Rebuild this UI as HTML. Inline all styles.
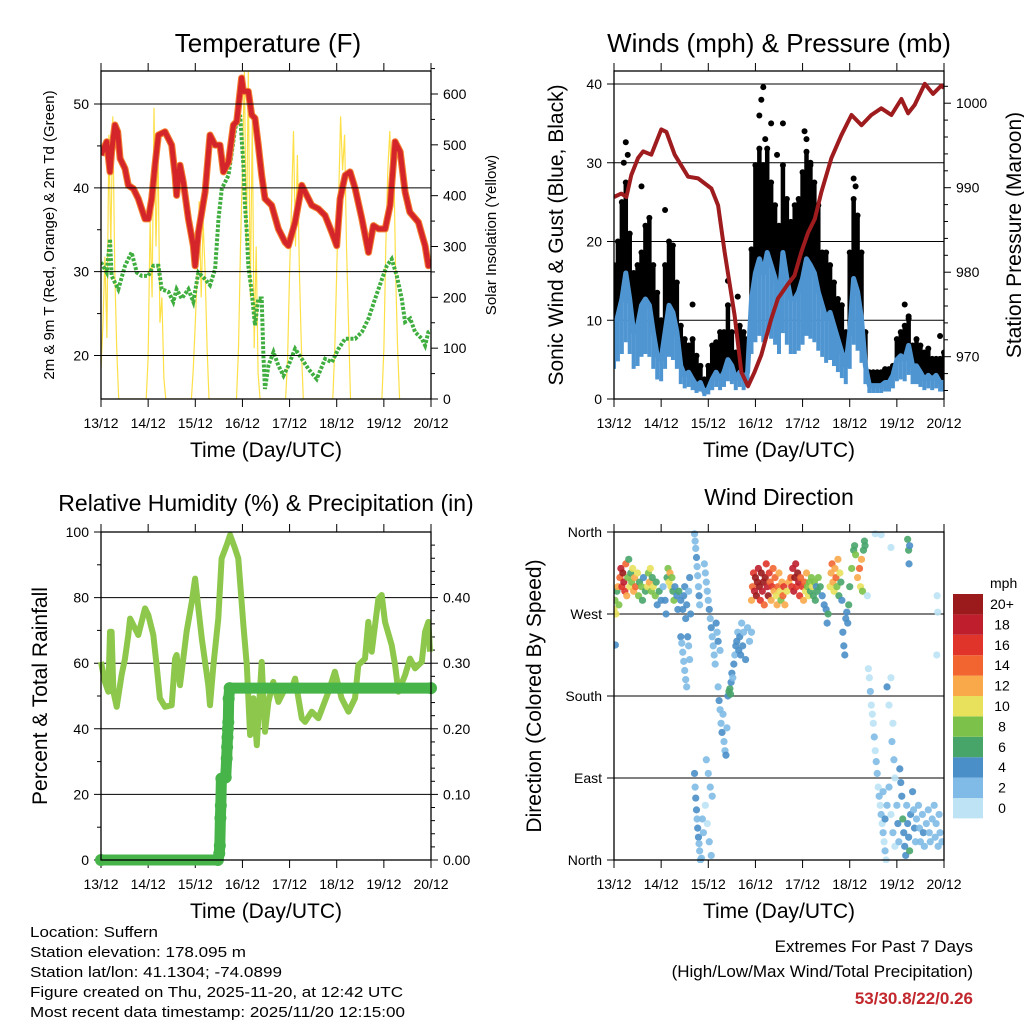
<!DOCTYPE html>
<html><head><meta charset="utf-8"><style>
html,body{margin:0;padding:0;background:#fff}
svg{display:block;font-family:"Liberation Sans",sans-serif}
</style></head><body>
<svg id="chart" width="1024" height="1024" viewBox="0 0 1024 1024" xmlns="http://www.w3.org/2000/svg">
<g id="layer"></g>
<g font-size="15" fill="#000">
<text x="30" y="937" textLength="128" lengthAdjust="spacingAndGlyphs">Location: Suffern</text>
<text x="30" y="957" textLength="216" lengthAdjust="spacingAndGlyphs">Station elevation: 178.095 m</text>
<text x="30" y="977" textLength="252" lengthAdjust="spacingAndGlyphs">Station lat/lon: 41.1304; -74.0899</text>
<text x="30" y="997" textLength="373" lengthAdjust="spacingAndGlyphs">Figure created on Thu, 2025-11-20, at 12:42 UTC</text>
<text x="30" y="1017" textLength="375" lengthAdjust="spacingAndGlyphs">Most recent data timestamp: 2025/11/20 12:15:00</text>
</g>
<g font-size="17" text-anchor="end">
<text x="973" y="952">Extremes For Past 7 Days</text>
<text x="973" y="977">(High/Low/Max Wind/Total Precipitation)</text>
<text x="973" y="1004" fill="#c1272d" font-weight="bold">53/30.8/22/0.26</text>
</g>
</svg>
<script>
// ---------- DATA ----------
const dayLabels = ["13/12","14/12","15/12","16/12","17/12","18/12","19/12","20/12"];
const tempHours = [0,2.9,4.6,5.4,7.1,8.5,9.7,12.2,13.9,16.5,19,22.4,24.1,25.8,27.5,29.2,32.6,36,37.7,38.5,40.2,41.9,44.5,47,47.9,49.6,53,55.5,58.1,60.6,62.3,64.9,67.4,69.1,71.6,72.5,75,76.7,78.4,80.1,81.8,83.5,86.9,90.3,93.7,95.4,98.8,102.2,103.9,107.3,110.7,114.1,117.5,120,121.7,124.3,126.8,129.4,132.8,136.2,138.7,141.3,144.7,147.2,149.7,152.3,154.8,157.2,161.6,165,166.7,167.6];
const temp2m = [43.9,45.5,41.9,44.3,47.5,46.7,43.5,42.3,40.3,39.9,38.7,36.3,36.3,38.7,42.7,46.3,46.7,45.1,41.5,39.1,42.7,40.7,36.3,33.1,30.7,34.7,39.5,46.3,45.1,45.1,41.9,43.1,47.5,47.9,53.1,51.5,51.5,48.7,48.3,45.1,41.5,38.7,37.9,35.1,33.5,33.1,35.9,40.3,39.5,37.9,37.5,36.7,34.7,33.1,38.7,41.5,41.9,39.9,36.3,32.3,35.5,35.1,35.1,37.9,45.5,44.3,39.5,37.1,35.9,33.1,30.7,31.5];
const dewHours = [0,2.9,4.6,5.4,8.8,12.2,15.6,18.2,20.7,24.1,26.7,29.2,30.9,34.3,36.8,38.5,41.1,44.5,47,49.6,53,55.5,58.1,59.8,61.5,64.9,68.3,70.8,72.5,73.3,74.2,75,76.7,78.4,80.1,81.8,82.7,83.5,85.2,87.8,90.3,92.9,95.4,98.8,102.2,105.6,109.8,114.1,117.5,120.9,124.3,129.4,132.8,136.2,139.6,143,145.5,148,150.6,153.1,154.8,157.4,159.9,163.3,165,166.7,168];
const dew2m = [31.1,29.9,33.9,29.5,27.9,30.7,32.3,29.9,29.5,29.5,30.7,30.7,27.9,27.6,26.4,27.9,26.8,27.9,26.4,29.9,29.1,28.4,30.3,36.3,39.9,41.5,47.1,48.7,42.7,37.9,34.7,30.7,27.6,23.6,26.8,26.8,20,16,18.8,20.4,18.8,17.6,18.8,20.8,19.6,18.4,17.2,19.6,19.2,20.8,22,22,22.8,24.4,26.8,29.1,30.7,31.5,29.5,26.8,24,24.4,22.8,22,21.2,22.8,23];
const solarHours = [0,1,2,3,4,5,6,7,8,9,23,24,25,26,27,28,29,30,31,32,33,46,47,48,49,50,51,52,53,54,55,69,70,71,72,73,74,75,76,77,78,79,80,81,94,95,96,97,98,99,100,101,102,103,118,119,120,121,122,123,124,125,126,127,143,144,145,146,147,148,149,150,151,152];
const solarVals = [60,150,280,120,520,300,556,250,100,0,0,80,350,200,573,300,500,150,200,40,0,0,60,150,250,389,200,350,250,100,0,0,100,300,450,645,300,645,200,550,100,300,50,0,0,80,250,380,527,300,480,250,100,0,0,100,250,400,556,450,520,300,150,0,0,100,300,450,527,400,480,250,100,0];
const windHours = [0,2,4,6,8,10,12,14,16,18,20,22,24,26,28,30,32,34,36,38,40,42,44,46,48,50,52,54,56,58,60,62,64,66,68,70,72,74,76,78,80,82,84,86,88,90,92,94,96,98,100,102,104,106,108,110,112,114,116,118,120,122,124,126,128,130,132,134,136,138,140,142,144,146,148,150,152,154,156,158,160,162,164,166,168];
const windSustained = [8.5,10.6,12.7,16,12.7,8.5,9.3,11.9,12.7,11.9,8.5,5.5,5,8.5,11.9,11,8.5,4.2,3,3.4,2.5,1.7,2.1,0.8,1.3,2.5,3.4,2.5,3.4,5,4.2,2.5,3.4,2.5,3.4,12.7,16,17.8,16,18.6,17,15.3,12.7,18.6,15.3,12.7,12.7,13.6,15.3,17.8,17,16,13.6,11.9,10.2,11,9.3,7.6,5.9,4.2,8.5,15.3,13.6,10.2,4.2,1.7,1.7,1.7,1.7,2.1,2.1,3,5,5.5,5,6.8,4.2,4.2,3.4,2.5,3,2.5,3,2.1,2.1];
const windGust = [17,20,25,27.5,21,16,17,18.6,22,23,17,13.5,10,17,20,19.5,14.8,9.3,7.6,6.8,7.6,5.5,4.2,2.5,4.2,6.8,7.2,8.5,8.5,11.9,8.5,5.9,9.3,8.5,7.6,19,29.7,31.8,29.7,31.8,27.5,24.6,22,29.7,25.4,22.5,24.6,25.4,28.8,31.4,29.7,27.5,24.6,18.6,18.6,17,14.8,12.7,11.9,8.5,18.6,25.4,23.3,18.6,8.5,3.4,3.4,3.4,3.4,3.8,3.8,4.2,7.6,8.5,9.3,10.2,6.8,7.6,6.8,5.9,6.4,5.1,5.1,5.1,5.9];
const outlierHours = [5,6,7,14,26,40,58,63,74,75,76,77,80,83,86,97,98,100,122,123,148,150,166];
const outlierGusts = [30,32.6,31,27,24,12,15,13,36,38,39.6,33,35,31,35,34,33,30,28,27,12,10.5,8];
const presHours = [0,3.7,6.3,8.8,12.2,14.8,19,24.1,26.7,30.9,37.7,42.8,49.6,53,56.3,61.4,64.8,68.2,71.6,75,80.1,83.5,88.6,91.9,95.4,98.8,102.2,105.6,110.7,115.7,120.9,126,131,136.1,141.2,146.3,149.7,153.1,158.2,162.4,166.7,168];
const presVals = [988.9,989.3,988.9,991.5,993.5,994.3,993.9,996.9,996.6,993.9,991.3,991.1,989.9,987.9,982.4,974.9,968.2,966.5,968.2,970.2,974.5,976.9,978.6,979.6,982.4,984.7,986.3,989.5,993.5,996.2,998.6,997.4,998.6,999.4,998.6,1000.5,998.8,999.8,1002.3,1001.1,1002.1,1001.8];
const rhHours = [0,2,3.7,4.6,5.4,6.3,8,10.5,12.2,13.9,14.8,16.5,19,22.4,24.1,26.6,28.3,30,32.6,36,37.7,38.5,40.2,41.9,43.6,46.2,47.9,49.6,51.3,54.6,55.5,57.2,59.7,61.4,64,65.7,68.2,69.9,72.5,74.2,75.9,77.6,79.3,80.9,81.8,83.5,85.2,87.7,90.3,93.7,97.1,98.8,102.2,103.9,107.3,110.7,115.8,119.1,122.5,126,129.3,131,134.4,136.1,137.8,141.2,142.9,144.6,148,149.7,151.4,154.8,157.3,159.9,163.3,165,166.7,167.5];
const rhVals = [60.4,54.3,51.3,69.6,69.6,51.3,46.7,56.4,61.4,68.6,73.6,71.6,68.6,76.7,74.7,68.6,59.4,49.3,46.7,47.2,61.4,62.5,53.3,61.4,69.6,78.7,85.8,76.7,67.5,53.3,47.2,59.4,73.6,91.9,96,99.1,95,91.9,71.6,59.4,38.1,49.3,35,51.3,60.4,39.1,48.2,54.3,48.2,52.3,52.3,55.3,43.2,42.1,45.2,43.2,51.3,57.4,49.3,45.2,49.3,59.4,61.4,72.6,63.5,79.7,80.8,72.6,65.5,59.4,51.3,56.4,61.4,58.4,60.4,69.6,72.6,63.5];
const precipHours = [0,59.5,60.2,60.5,60.8,61,61.3,63.5,64,64.2,64.4,64.6,64.8,65,65.5,168];
const precipVals = [0,0,0.01,0.022,0.064,0.083,0.124,0.126,0.155,0.172,0.187,0.2,0.21,0.246,0.262,0.262];
const wdHours = [0,0.5,1,1.5,2,2.5,3,3.5,4,4.5,5,5.5,6,6.5,7,7.5,8,8.5,9,9.5,10,10.5,11,12,12.5,13,14,14.5,15,16,17,17.5,18,18.5,19,19.5,20,21,21.5,22,23,24,25,26,26.5,27,27.5,28,28.5,29,29.5,30,30.5,31,32,32.5,33,34,35,35.5,36,36.5,37,38,38.5,39,0.7,
34,34.5,35,35.5,36,36.5,37,37.5,38,38.5,
41,41.3,41.6,42,42.3,42.6,43,43.3,43.6,41,41.3,41.6,42,42.3,42.6,43,43.3,43.6,44,44.5,45,45.5,
46,46.5,47,47.5,48,48.5,49,49.5,50,50.5,51,51.5,52,52.5,53,54,47,48,49,50,46.5,47.5,48.5,49.5,
53,53.5,54,54.5,55,55.5,56,56.5,57,57.5,58,58.5,59,59.3,59.6,60,60.5,61,61.5,62,62.5,63,63.5,64,64.5,65,65.5,66,67,68,69,70,
70,70.5,71,71.5,72,72.5,73,73.5,74,74.5,75,75.5,76,76.5,77,77.5,78,78.5,79,79.5,80,80.5,81,81.5,82,82.5,83,83.5,84,84.5,85,85.5,86,86.5,87,88,89,90,90.5,91,91.5,92,92.5,93,93.5,94,94.5,95,96,96.5,97,97.5,98,98.5,99,99.5,100,100.5,101,101.5,102,102.5,103,103.5,104,105,106,107,108,108.5,109,110,110.5,111,111.5,112,112.5,113,113.5,114,114.5,115,115.5,116,116.5,117,117.5,118,118.5,119,119.5,120,121,122,122.5,123,124,125,125.5,126,126.5,127,127.5,127.8,
129,129.5,130,130.5,131,131.5,132,132.5,133,133.5,134,134.5,135,135.5,136,136.5,137,137.5,138,138.5,133,136,141,139,140,141,142,141.5,142.5,143,140,139,138,137,141,142,143,144,144.5,145,145.5,146,146.5,147,147.5,148,148.5,149,149.5,150,150.5,151,152,152.5,153,153.5,154,155,155.5,156,157,157.5,158,159,160,160.5,161,162,163,163.5,164,165,165.5,166,167,149.5,150,150.5,150.2,164.5,164.8,164.3];
const wdDirs = [275,285,270,295,300,280,310,320,300,315,305,295,325,290,310,330,300,315,305,320,295,310,300,315,290,305,300,285,310,295,300,315,305,320,295,310,300,290,305,280,295,285,300,285,270,310,320,305,315,300,310,295,285,300,290,275,295,285,275,290,300,265,280,295,310,270,236,
245,238,228,218,208,198,190,245,235,220,
358,350,342,332,322,312,300,290,280,95,80,68,55,45,35,25,18,10,0,2,45,30,
325,315,305,295,285,275,265,255,245,235,225,215,260,250,240,230,110,95,80,70,60,40,20,5,
190,175,165,150,140,160,130,120,115,145,180,185,188,182,195,205,200,215,225,235,240,250,230,245,225,260,235,250,220,255,240,250,
285,300,315,295,310,290,305,320,300,285,315,295,305,280,310,325,300,290,315,305,285,300,320,295,310,290,280,300,315,295,285,305,290,300,280,295,305,310,300,320,295,310,325,300,315,305,290,310,300,285,305,295,315,300,290,305,295,310,300,290,305,285,300,295,310,300,290,280,275,260,270,300,315,325,305,295,320,310,300,330,290,315,305,285,250,235,225,265,272,260,280,300,320,340,345,335,310,320,300,330,295,340,350,345,
290,210,200,185,170,160,150,135,120,108,95,80,70,60,50,40,30,20,10,0,358,357,343,190,170,200,150,130,110,90,80,60,45,75,50,30,15,60,40,20,100,85,70,45,30,15,5,60,40,25,10,50,75,55,35,20,45,60,35,20,50,30,15,40,55,30,20,45,60,25,40,15,50,30,20,352,340,345,325,290,272,225];
const wdSpeeds = [10,8,10,6,12,8,14,18,16,20,18,16,14,12,8,6,10,6,8,10,12,12,14,10,8,6,8,6,4,6,10,8,12,10,8,6,10,8,6,4,6,4,2,4,4,6,8,10,12,10,8,6,8,4,4,4,6,4,4,4,4,4,4,2,4,4,4,
4,2,2,2,2,2,2,4,2,2,
2,2,2,4,2,2,2,4,2,4,2,4,4,2,4,4,2,2,2,2,2,2,
2,2,2,2,2,4,2,4,2,2,2,2,4,2,4,2,2,2,2,2,0,0,2,2,
2,4,2,2,4,2,2,2,4,2,4,6,6,6,4,4,2,4,2,4,4,2,4,4,4,2,4,2,4,2,2,2,
12,14,16,18,20,22,20,18,22,16,20,18,22,14,20,16,18,20,16,14,12,16,14,12,14,10,12,14,12,10,8,12,14,16,12,10,12,14,16,18,18,20,18,16,20,18,16,14,16,12,14,10,12,8,10,8,6,8,10,6,8,6,4,6,8,6,4,4,4,4,6,10,12,14,12,10,12,14,8,12,6,10,6,4,4,4,4,4,4,4,6,6,8,6,6,8,12,14,10,12,8,6,6,6,
0,0,0,2,0,0,0,2,0,2,2,0,2,0,2,0,2,0,2,0,0,0,0,4,0,0,0,2,2,0,2,2,4,2,0,2,0,2,4,2,4,4,4,6,4,4,4,2,4,4,6,4,4,2,4,2,2,2,2,2,2,4,2,2,2,2,2,2,2,2,2,2,2,2,2,6,6,4,4,0,0,0];
const speedColors = ["#bde3f5","#7fbbe6","#4a8fc8","#48a56a","#7cc24a","#e8e15c","#f9a94a","#f26531","#e0342a","#bf1e2d","#9b1a1c"];
const speedLabels = ["0","2","4","6","8","10","12","14","16","18","20+"];

// ---------- HELPERS ----------
const NS = "http://www.w3.org/2000/svg";
const layer = document.getElementById("layer");
function mk(tag, attrs, parent) {
  const e = document.createElementNS(NS, tag);
  for (const k in attrs) e.setAttribute(k, attrs[k]);
  (parent || layer).appendChild(e);
  return e;
}
function txt(s, attrs, parent) { const t = mk("text", attrs, parent); t.textContent = s; return t; }
function lin(d0, d1, r0, r1) { return v => r0 + (v - d0) / (d1 - d0) * (r1 - r0); }

const panels = {
  temp: {x0:101,x1:431,y0:71,y1:399},
  wind: {x0:614,x1:944,y0:71,y1:399},
  rh:   {x0:101,x1:431,y0:532,y1:860},
  wd:   {x0:614,x1:944,y0:532,y1:860}
};

function xAxis(p, g) {
  const xs = lin(0, 168, p.x0, p.x1);
  dayLabels.forEach((lab, i) => {
    const x = xs(i * 24);
    const t1 = mk("line", {x1:x,x2:x,y1:p.y0-8,y2:p.y0,stroke:"#000","stroke-width":1}, g);
    
    
    const t2 = mk("line", {x1:x,x2:x,y1:p.y1,y2:p.y1+8,stroke:"#000","stroke-width":1}, g);
    
    
    const tl = txt(lab, {x:x,y:p.y1+29,"font-size":14,"text-anchor":"middle"}, g);
    
    
  });
  const tt = txt("Time (Day/UTC)", {x:(p.x0+p.x1)/2,y:p.y1+58,"font-size":21,"text-anchor":"middle"}, g);
  
  
  return xs;
}
function leftAxis(p, g, ys, ticks, labels, minors) {
  ticks.forEach((v, i) => {
    const y = ys(v);
    const gl = mk("line", {x1:p.x0-7,x2:p.x1,y1:y,y2:y,stroke:"#000","stroke-width":1}, g);
    
    
    const tl = txt(labels[i], {x:p.x0-12,y:y+5,"font-size":14,"text-anchor":"end"}, g);
    
    
  });
  (minors||[]).forEach(v => {
    const y = ys(v);
    const m = mk("line", {x1:p.x0-4,x2:p.x0,y1:y,y2:y,stroke:"#000","stroke-width":1}, g);
    
    
  });
}
function rightAxis(p, g, ys, ticks, labels, minors) {
  ticks.forEach((v, i) => {
    const y = ys(v);
    const t = mk("line", {x1:p.x1,x2:p.x1+7,y1:y,y2:y,stroke:"#000","stroke-width":1}, g);
    
    
    const tl = txt(labels[i], {x:p.x1+12,y:y+5,"font-size":14}, g);
    
    
  });
  minors.forEach(v => {
    const y = ys(v);
    const m = mk("line", {x1:p.x1,x2:p.x1+4,y1:y,y2:y,stroke:"#000","stroke-width":1}, g);
    
    
  });
}
function frame(p, g) {
  const r = mk("rect", {x:p.x0,y:p.y0,width:p.x1-p.x0,height:p.y1-p.y0,fill:"none",stroke:"#000","stroke-width":1.3}, g);
  
  
}
function pathFrom(xsArr, ysArr, xs, ys) {
  return xsArr.map((h, i) => (i ? "L" : "M") + xs(h).toFixed(1) + "," + ys(ysArr[i]).toFixed(1)).join("");
}
function range(a, b, s) { const r = []; for (let v = a; v <= b + 1e-9; v += s) r.push(+v.toFixed(4)); return r; }

// ---------- PANEL 1: TEMPERATURE ----------
(function(){
  const p = panels.temp;
  const g = mk("g", {});
  
  
  const ti = txt("Temperature (F)", {x:268,y:52,"font-size":26,"text-anchor":"middle"}, g);
  
  
  const ys = lin(20, 50, 355.5, 104);
  const ys2 = lin(0, 600, 399, 94);
  const xs = xAxis(p, g);
  const clip = mk("clipPath", {id:"c1"}, g);
  mk("rect", {x:p.x0,y:p.y0,width:p.x1-p.x0,height:p.y1-p.y0}, clip);
  const d = mk("g", {"clip-path":"url(#c1)"}, g);
  const sol = mk("path", {d:pathFrom(solarHours, solarVals, xs, ys2),fill:"none",stroke:"#fde047","stroke-width":1.2}, d);
  
  
  leftAxis(p, g, ys, [20,30,40,50], ["20","30","40","50"], [25,35,45]);
  rightAxis(p, g, ys2, [0,100,200,300,400,500,600], ["0","100","200","300","400","500","600"], range(50,650,50).filter(v=>v%100));
  const dew = mk("path", {d:pathFrom(dewHours, dew2m, xs, ys),fill:"none",stroke:"#3fae3f","stroke-width":4,"stroke-dasharray":"3 1.6"}, d);
  
  
  const t9 = mk("path", {d:pathFrom(tempHours, temp2m, xs, ys),fill:"none",stroke:"#f47f30","stroke-width":7,"stroke-linejoin":"round"}, d);
  
  
  const t2 = mk("path", {d:pathFrom(tempHours, temp2m, xs, ys),fill:"none",stroke:"#d4262a","stroke-width":5,"stroke-linejoin":"round"}, d);
  
  
  frame(p, g);
  const yl = txt("2m & 9m T (Red, Orange) & 2m Td (Green)", {x:0,y:0,"font-size":15,"text-anchor":"middle",transform:"translate(54,235) rotate(-90)"}, g);
  
  
  const yr = txt("Solar Insolation (Yellow)", {x:0,y:0,"font-size":15,"text-anchor":"middle",transform:"translate(496,235) rotate(-90)"}, g);
  
  
})();

// ---------- PANEL 2: WINDS ----------
(function(){
  const p = panels.wind;
  const g = mk("g", {});
  
  
  const ti = txt("Winds (mph) & Pressure (mb)", {x:779,y:52,"font-size":26,"text-anchor":"middle"}, g);
  
  
  const ys = lin(0, 40, 399, 84);
  const ys2 = lin(970, 1000, 356.7, 103.2);
  const xs = xAxis(p, g);
  leftAxis(p, g, ys, [0,10,20,30,40], ["0","10","20","30","40"], []);
  rightAxis(p, g, ys2, [970,980,990,1000], ["970","980","990","1000"], range(966,1002,2).filter(v=>v%10));
  const clip = mk("clipPath", {id:"c2"}, g);
  mk("rect", {x:p.x0,y:p.y0,width:p.x1-p.x0,height:p.y1-p.y0}, clip);
  const d = mk("g", {"clip-path":"url(#c2)"}, g);
  windHours.forEach((h, i) => {
    const x = xs(h);
    const b = mk("line", {x1:x,x2:x,y1:ys(windSustained[i]),y2:ys(windGust[i]),stroke:"#000","stroke-width":4.5,"stroke-linecap":"round"}, d);
    
    
    const c = mk("circle", {cx:x,cy:ys(windGust[i]),r:3}, d);
    
    
  });
  outlierHours.forEach((h, i) => {
    const c = mk("circle", {cx:xs(h),cy:ys(outlierGusts[i]),r:3}, d);
    
    
  });
  windHours.forEach((h, i) => {
    const x = xs(h);
    const b = mk("line", {x1:x,x2:x,y1:ys(windSustained[i]),y2:ys(windSustained[i]*0.45),stroke:"#4f95d2","stroke-width":4}, d);
    
    
  });
  const w = mk("path", {d:pathFrom(windHours, windSustained, xs, ys),fill:"none",stroke:"#4f95d2","stroke-width":5,"stroke-linejoin":"round"}, d);
  
  
  const pr = mk("path", {d:pathFrom(presHours, presVals, xs, ys2),fill:"none",stroke:"#9e1b1e","stroke-width":4,"stroke-linejoin":"round"}, d);
  
  
  frame(p, g);
  const yl = txt("Sonic Wind & Gust (Blue, Black)", {x:0,y:0,"font-size":21,"text-anchor":"middle",transform:"translate(563,235) rotate(-90)"}, g);
  
  
  const yr = txt("Station Pressure (Maroon)", {x:0,y:0,"font-size":21,"text-anchor":"middle",transform:"translate(1021,235) rotate(-90)"}, g);
  
  
})();

// ---------- PANEL 3: RH & PRECIP ----------
(function(){
  const p = panels.rh;
  const g = mk("g", {});
  
  
  const ti = txt("Relative Humidity (%) & Precipitation (in)", {x:266,y:511,"font-size":23,"text-anchor":"middle"}, g);
  
  
  const ys = lin(0, 100, 860, 532);
  const ys2 = lin(0, 0.5, 860, 532);
  const xs = xAxis(p, g);
  leftAxis(p, g, ys, [0,20,40,60,80,100], ["0","20","40","60","80","100"], [10,30,50,70,90]);
  rightAxis(p, g, ys2, [0,0.1,0.2,0.3,0.4], ["0.00","0.10","0.20","0.30","0.40"], range(0.02,0.48,0.02).filter(v=>Math.round(v*100)%10));
  const clip = mk("clipPath", {id:"c3"}, g);
  mk("rect", {x:p.x0-8,y:p.y0,width:p.x1-p.x0+16,height:p.y1-p.y0+8}, clip);
  const d = mk("g", {"clip-path":"url(#c3)"}, g);
  const rh = mk("path", {d:pathFrom(rhHours, rhVals, xs, ys),fill:"none",stroke:"#8dc84c","stroke-width":6,"stroke-linejoin":"round"}, d);
  
  
  const pl = mk("path", {d:pathFrom(precipHours, precipVals, xs, ys2),fill:"none",stroke:"#46b449","stroke-width":11,"stroke-linejoin":"round","stroke-linecap":"round"}, d);
  
  
  precipHours.forEach((h, i) => {
    const c = mk("circle", {cx:xs(h),cy:ys2(precipVals[i]),r:6,fill:"#46b449"}, d);
    
    
  });
  frame(p, g);
  const yl = txt("Percent & Total Rainfall", {x:0,y:0,"font-size":21,"text-anchor":"middle",transform:"translate(47,696) rotate(-90)"}, g);
  
  
})();

// ---------- PANEL 4: WIND DIRECTION ----------
(function(){
  const p = panels.wd;
  const g = mk("g", {});
  
  
  const ti = txt("Wind Direction", {x:779,y:505,"font-size":23,"text-anchor":"middle"}, g);
  
  
  const ys = lin(0, 360, 860, 532);
  const xs = xAxis(p, g);
  leftAxis(p, g, ys, [0,90,180,270,360], ["North","East","South","West","North"], []);
  const clip = mk("clipPath", {id:"c4"}, g);
  mk("rect", {x:p.x0,y:p.y0-3,width:p.x1-p.x0,height:p.y1-p.y0+6}, clip);
  const d = mk("g", {"clip-path":"url(#c4)"}, g);
  wdHours.forEach((h, i) => {
    const idx = Math.max(0, Math.min(10, Math.round(wdSpeeds[i] / 2)));
    const c = mk("circle", {cx:xs(h),cy:ys(wdDirs[i]),r:3.6,fill:speedColors[idx],"fill-opacity":0.9}, d);
    
    
  });
  frame(p, g);
  const yl = txt("Direction (Colored By Speed)", {x:0,y:0,"font-size":21,"text-anchor":"middle",transform:"translate(541,696) rotate(-90)"}, g);
  
  
  const lg = mk("g", {}, g);
  
  
  const lt = txt("mph", {x:990,y:588,"font-size":14}, lg);
  
  
  speedColors.forEach((col, i) => {
    const y = 594 + (10 - i) * 20.4;
    const r = mk("rect", {x:953,y:y,width:30,height:20.4,fill:col}, lg);
    
    
    const t = txt(speedLabels[i], {x:1002,y:y+15,"font-size":14,"text-anchor":"middle"}, lg);
    
    
  });
})();
</script>
</body></html>
